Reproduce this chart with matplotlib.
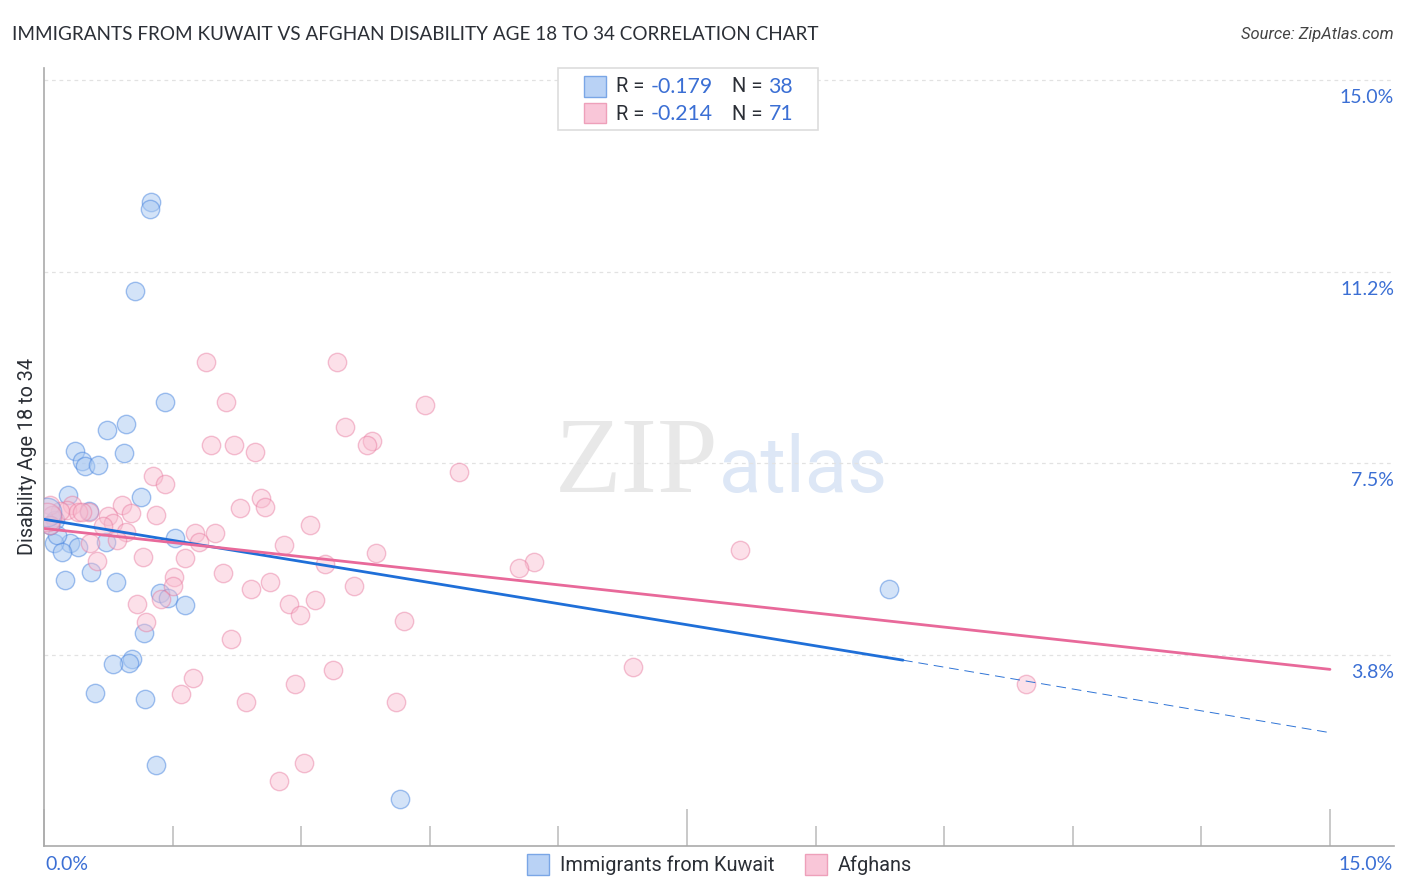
import matplotlib
matplotlib.use('Agg')
import matplotlib.pyplot as plt
from matplotlib.colors import to_rgba
from matplotlib.patches import Rectangle
from matplotlib.ticker import MultipleLocator

# values
kuwait_x = [1.25, 1.24, 1.06, 1.41, 0.96, 0.73, 0.93, 0.36, 0.44, 0.48, 0.63, 0.28, 1.13,
            0.52, 0.13, 0.72, 1.53, 0.30, 0.40, 0.12, 0.15, 0.21, 0.55, 0.24, 0.84, 1.35,
            1.45, 1.64, 1.17, 1.03, 0.99, 0.80, 0.59, 1.18, 1.31, 4.15, 9.86, 0.07]
kuwait_y = [12.61, 12.48, 10.87, 8.69, 8.26, 8.14, 7.69, 7.73, 7.54, 7.44, 7.46, 6.87, 6.83,
            6.56, 6.38, 5.95, 6.03, 5.93, 5.85, 5.93, 6.09, 5.75, 5.36, 5.22, 5.18, 4.95,
            4.85, 4.73, 4.17, 3.66, 3.58, 3.56, 2.99, 2.87, 1.58, 0.93, 5.03, 6.28]
afghan_x = [1.89, 3.42, 2.12, 4.44, 3.51, 3.83, 3.77, 1.95, 2.22, 2.46, 4.84, 1.27, 1.41,
            2.53, 2.58, 2.29, 0.91, 1.01, 1.31, 3.10, 0.75, 0.52, 0.33, 0.27, 0.19, 0.40,
            0.44, 0.07, 0.09, 0.80, 0.69, 0.96, 1.76, 1.99, 1.81, 2.80, 0.85, 0.54, 1.15,
            1.64, 3.87, 0.62, 3.28, 5.72, 5.54, 8.12, 1.52, 2.09, 2.64, 1.50, 2.41, 3.62,
            1.36, 1.08, 2.86, 3.16, 2.99, 4.20, 1.19, 2.18, 3.37, 6.87, 1.74, 2.93, 1.60,
            2.36, 4.11, 11.45, 3.03, 2.74, 0.07]
afghan_y = [9.48, 9.48, 8.69, 8.63, 8.20, 7.93, 7.85, 7.85, 7.85, 7.71, 7.32, 7.24, 7.09,
            6.81, 6.65, 6.63, 6.67, 6.52, 6.48, 6.28, 6.46, 6.54, 6.67, 6.58, 6.56, 6.54,
            6.54, 6.67, 6.48, 6.32, 6.26, 6.16, 6.14, 6.14, 5.95, 5.89, 5.99, 5.93, 5.67,
            5.65, 5.73, 5.58, 5.52, 5.56, 5.44, 5.79, 5.26, 5.34, 5.18, 5.09, 5.03, 5.09,
            4.83, 4.75, 4.75, 4.81, 4.52, 4.40, 4.38, 4.05, 3.44, 3.50, 3.30, 3.17, 2.97,
            2.83, 2.83, 3.17, 1.62, 1.28, 6.28]
kuwait_big = (0.03, 6.55)
afghan_big = (0.03, 6.45)

kuwait_trend_x = [0, 10.02]
kuwait_trend_y = [6.40, 3.64]
kuwait_dash_x = [10.02, 15]
kuwait_dash_y = [3.64, 2.22]
afghan_trend_x = [0, 15]
afghan_trend_y = [6.22, 3.46]

grid_vals = [15.0, 11.25, 7.5, 3.75]
grid_labels = ['15.0%', '11.2%', '7.5%', '3.8%']

W, H = 1406, 892
BLUE_TXT = '#3b6fd4'
DARK = '#2b2f36'
SANS = ['Roboto', 'DejaVu Sans']
NUM = ['Lato', 'DejaVu Sans']

plt.rcParams['font.family'] = SANS

fig = plt.figure(figsize=(W / 100, H / 100), dpi=100)
ax = fig.add_axes([44 / W, 1 - 846 / H, 1350 / W, 778 / H])
ax.set_xlim(0, 15.747)
ax.set_ylim(0, 15.24)
for s in ['top', 'right']:
    ax.spines[s].set_visible(False)
for s in ['left', 'bottom']:
    ax.spines[s].set_color('#aaaaaa')
    ax.spines[s].set_linewidth(1.2)

ax.xaxis.set_major_locator(MultipleLocator(7.5))
ax.xaxis.set_minor_locator(MultipleLocator(1.5))
ax.tick_params(axis='x', which='major', direction='in', length=27, width=1.1, color='#bbbbbb', labelbottom=False)
ax.tick_params(axis='x', which='minor', direction='in', length=14.5, width=1.1, color='#bbbbbb')
ax.set_yticks([])

for v, lab in zip(grid_vals, grid_labels):
    ax.axhline(v, color='#e2e2e2', lw=0.9, ls=(0, (3, 3)), zorder=1)
    ax.annotate(lab, (1, v), xycoords=ax.get_yaxis_transform(), xytext=(0, -12.6),
                textcoords='offset points', ha='right', va='center', fontsize=14,
                family=NUM, color=BLUE_TXT, zorder=3)

# watermark
ax.text(555, H - 492, 'ZIP', transform=None, family='Liberation Serif', fontsize=78.5,
        color='#e8e8e8', ha='left', va='baseline', zorder=0)
ax.text(719, H - 492, 'atlas', transform=None, family='Roboto', fontsize=56,
        color='#dde7f6', ha='left', va='baseline', zorder=0)

ax.scatter(kuwait_x, kuwait_y, s=175, facecolor=to_rgba('#a9c9f2', 0.5), edgecolor=to_rgba('#4a86e0', 0.5), lw=1, zorder=4)
ax.scatter(afghan_x, afghan_y, s=175, facecolor=to_rgba('#f9bccf', 0.45), edgecolor=to_rgba('#e8799f', 0.45), lw=1, zorder=4)
ax.scatter(*kuwait_big, s=420, facecolor=to_rgba('#a9c9f2', 0.4), edgecolor=to_rgba('#4a86e0', 0.4), lw=1, zorder=4)
ax.scatter(*afghan_big, s=420, facecolor=to_rgba('#f9bccf', 0.4), edgecolor=to_rgba('#e8799f', 0.4), lw=1, zorder=4)

ax.plot(kuwait_trend_x, kuwait_trend_y, color='#1f6fd8', lw=2, zorder=5, solid_capstyle='round')
ax.plot(kuwait_dash_x, kuwait_dash_y, color='#2f74d6', lw=0.7, ls=(0, (10, 6)), zorder=5)
ax.plot(afghan_trend_x, afghan_trend_y, color='#e8699a', lw=2, zorder=5, solid_capstyle='round')


def px_text(x, y, s, **kw):
    fig.text(x / W, 1 - y / H, s, **kw)


def px_rect(x0, y0, x1, y1, **kw):
    fig.add_artist(Rectangle((x0 / W, 1 - y1 / H), (x1 - x0) / W, (y1 - y0) / H,
                             transform=fig.transFigure, **kw))


px_text(12, 34, 'IMMIGRANTS FROM KUWAIT VS AFGHAN DISABILITY AGE 18 TO 34 CORRELATION CHART',
        family=NUM, fontsize=13.6, color=DARK, va='center')
px_text(1394, 34, 'Source: ZipAtlas.com', fontsize=11.9, style='italic', color='#444444', ha='right', va='center')
px_text(28, 456, 'Disability Age 18 to 34', fontsize=14.3, color=DARK, rotation=90, ha='center', va='center')
px_text(45, 864, '0.0%', fontsize=14, family=NUM, color=BLUE_TXT, va='center')
px_text(1393, 864, '15.0%', fontsize=14, family=NUM, color=BLUE_TXT, ha='right', va='center')

# correlation box
px_rect(558, 68, 818, 130, facecolor='white', edgecolor='#dddddd', lw=1.2, zorder=6)
px_rect(584, 76, 606, 97, facecolor='#b9d2f5', edgecolor='#7aa6e6', lw=1, zorder=7)
px_rect(584, 103, 606, 123, facecolor='#f9c6d8', edgecolor='#eea0ba', lw=1, zorder=7)
for y, r, n in [(87, '-0.179', '38'), (114, '-0.214', '71')]:
    px_text(616, y, 'R =', fontsize=14.5, color=DARK, va='center', zorder=8)
    px_text(713, y, r, fontsize=15.3, family=NUM, color=BLUE_TXT, ha='right', va='center', zorder=8)
    px_text(732, y, 'N =', fontsize=14.5, color=DARK, va='center', zorder=8)
    px_text(793, y, n, fontsize=15.3, family=NUM, color=BLUE_TXT, ha='right', va='center', zorder=8)

# bottom legend
px_rect(527, 854, 549, 875, facecolor='#b9d2f5', edgecolor='#7aa6e6', lw=1)
px_text(560, 865, 'Immigrants from Kuwait', fontsize=14.3, color=DARK, va='center')
px_rect(805, 854, 827, 875, facecolor='#f9c6d8', edgecolor='#eea0ba', lw=1)
px_text(838, 865, 'Afghans', fontsize=14.3, color=DARK, va='center')

fig.savefig('out.png', dpi=100)
